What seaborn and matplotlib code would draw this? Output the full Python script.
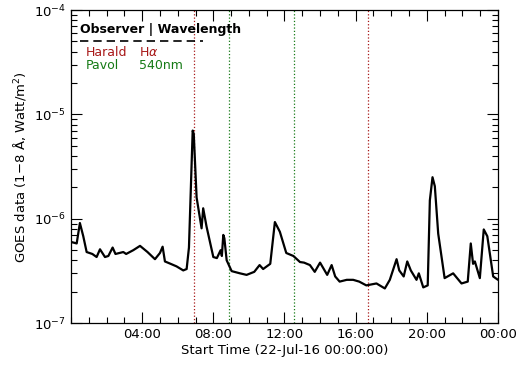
import numpy as np
import pandas as pd
import seaborn as sns
import matplotlib.pyplot as plt
from matplotlib.ticker import FixedLocator, LogLocator, NullFormatter

# GOES 1-8 A flux, hours after 22-Jul-16 00:00
hours = [0.0, 0.32, 0.5, 0.69, 0.88, 1.2, 1.44, 1.63, 1.91, 2.1, 2.34, 2.5, 2.94, 3.1,
         3.5, 3.88, 4.3, 4.72, 5.0, 5.15, 5.28, 5.6, 5.93, 6.31, 6.5, 6.63, 6.84, 6.9,
         7.06, 7.34, 7.43, 7.62, 8.0, 8.2, 8.41, 8.48, 8.56, 8.62, 8.75, 9.03, 9.5,
         9.87, 10.3, 10.6, 10.8, 11.2, 11.46, 11.74, 12.1, 12.5, 12.87, 13.1, 13.43,
         13.7, 14.0, 14.4, 14.65, 14.85, 15.1, 15.5, 15.86, 16.2, 16.6, 17.17, 17.64,
         17.92, 18.3, 18.45, 18.7, 18.9, 19.1, 19.42, 19.55, 19.8, 20.05, 20.17, 20.32,
         20.45, 20.64, 21.0, 21.48, 21.95, 22.3, 22.47, 22.6, 22.7, 22.98, 23.2, 23.4,
         23.73, 24.0]
flux = [6.0e-7, 5.8e-7, 9.1e-7, 6.8e-7, 4.8e-7, 4.6e-7, 4.3e-7, 5.1e-7, 4.3e-7, 4.4e-7,
        5.3e-7, 4.6e-7, 4.8e-7, 4.6e-7, 5.0e-7, 5.5e-7, 4.8e-7, 4.1e-7, 4.7e-7, 5.4e-7,
        3.9e-7, 3.7e-7, 3.5e-7, 3.2e-7, 3.3e-7, 5.3e-7, 7.0e-6, 6.5e-6, 1.6e-6, 8.1e-7,
        1.26e-6, 8.4e-7, 4.3e-7, 4.2e-7, 5.0e-7, 4.4e-7, 7.0e-7, 6.5e-7, 4.0e-7, 3.15e-7,
        3.0e-7, 2.9e-7, 3.1e-7, 3.6e-7, 3.3e-7, 3.7e-7, 9.3e-7, 7.5e-7, 4.7e-7, 4.4e-7,
        3.85e-7, 3.8e-7, 3.6e-7, 3.1e-7, 3.8e-7, 2.9e-7, 3.6e-7, 2.8e-7, 2.5e-7, 2.6e-7,
        2.6e-7, 2.5e-7, 2.3e-7, 2.4e-7, 2.15e-7, 2.6e-7, 4.1e-7, 3.2e-7, 2.8e-7, 3.9e-7,
        3.2e-7, 2.6e-7, 3.0e-7, 2.2e-7, 2.3e-7, 1.5e-6, 2.5e-6, 2.05e-6, 7.2e-7, 2.7e-7,
        3.0e-7, 2.4e-7, 2.5e-7, 5.8e-7, 3.7e-7, 3.9e-7, 2.7e-7, 7.9e-7, 6.8e-7, 2.8e-7,
        2.6e-7]

# observation times (hours) per observer
harald_times = [6.91, 16.69]
pavol_times = [8.88, 12.55]
red = '#a81818'
green = '#157a15'

tick_hours = [4, 8, 12, 16, 20, 24]
tick_labels = ['04:00', '08:00', '12:00', '16:00', '20:00', '00:00']

df = pd.DataFrame({'hour': hours, 'flux': flux})

sns.set_style('ticks')
plt.rcParams['font.family'] = ['DejaVu Sans']
plt.rcParams['text.color'] = 'black'
plt.rcParams['axes.labelcolor'] = 'black'
plt.rcParams['xtick.color'] = 'black'
plt.rcParams['ytick.color'] = 'black'
fig = plt.figure(figsize=(5.22, 3.71), dpi=100)
ax = fig.add_axes([0.136, 0.129, 0.818, 0.844])

for t in harald_times:
    ax.axvline(t, color=red, ls=':', lw=0.9)
for t in pavol_times:
    ax.axvline(t, color=green, ls=':', lw=0.9)

sns.lineplot(data=df, x='hour', y='flux', ax=ax, color='black', lw=1.6)

ax.set_yscale('log')
ax.set_ylim(1e-7, 1e-4)
ax.set_xlim(0, 24)
ax.xaxis.set_major_locator(FixedLocator(tick_hours))
ax.set_xticklabels(tick_labels)
ax.xaxis.set_minor_locator(FixedLocator(np.arange(0, 25, 1)))
ax.yaxis.set_major_locator(LogLocator(base=10, numticks=10))
ax.yaxis.set_minor_locator(LogLocator(base=10, subs=np.arange(2, 10), numticks=10))
ax.yaxis.set_minor_formatter(NullFormatter())
ax.tick_params(which='both', direction='in', top=True, right=True, labelsize=9.5, width=0.8)
ax.tick_params(which='major', length=8)
ax.tick_params(which='minor', length=4)
for s in ax.spines.values():
    s.set_linewidth(0.9)
    s.set_color('black')

ax.set_xlabel('Start Time (22-Jul-16 00:00:00)', fontsize=9.5, labelpad=2)
ax.set_ylabel('GOES data (1$-$8 Å, Watt/m$^2$)', fontsize=9.5, labelpad=4)

# legend drawn as text block
ax.text(0.022, 0.96, 'Observer | Wavelength', transform=ax.transAxes, fontsize=9,
        fontweight='semibold', va='top', ha='left')
ax.plot([0.022, 0.31], [0.902, 0.902], transform=ax.transAxes, color='black',
        ls=(0, (5, 3)), lw=1.2)
ax.text(0.035, 0.885, 'Harald', transform=ax.transAxes, fontsize=9, color=red, va='top')
ax.text(0.16, 0.885, 'H$\\alpha$', transform=ax.transAxes, fontsize=9, color=red, va='top')
ax.text(0.035, 0.845, 'Pavol', transform=ax.transAxes, fontsize=9, color=green, va='top')
ax.text(0.16, 0.845, '540nm', transform=ax.transAxes, fontsize=9, color=green, va='top')

fig.savefig('out.png', dpi=100)
